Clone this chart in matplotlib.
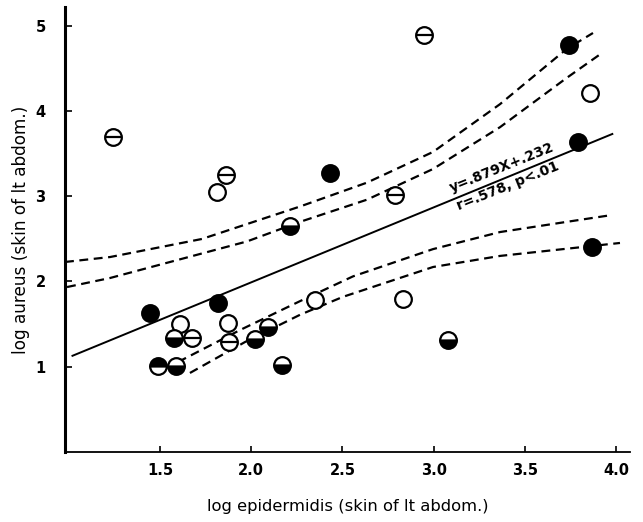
import matplotlib
matplotlib.use("Agg")
import matplotlib.pyplot as plt

# points: (log epidermidis, log aureus)
open_x = [3.86, 1.81, 2.35, 2.83, 1.61, 1.87]
open_y = [4.21, 3.05, 1.78, 1.79, 1.50, 1.51]

filled_x = [3.74, 2.43, 3.79, 3.87, 1.445, 1.82]
filled_y = [4.77, 3.27, 3.64, 2.41, 1.63, 1.75]

theta_x = [1.24, 2.95, 1.86, 2.79, 1.675, 1.88]
theta_y = [3.70, 4.89, 3.25, 3.01, 1.34, 1.29]

bottom_x = [2.21, 1.577, 2.02, 2.09, 1.59, 2.17, 3.08]
bottom_y = [2.65, 1.34, 1.33, 1.47, 1.01, 1.02, 1.31]

top_x = [1.49]
top_y = [1.01]

# regression from the label
slope, intercept = 0.879, 0.232
line_x = [1.02, 3.98]

# hand-drawn dashed bands, traced
up_out_x = [0.979, 1.226, 1.730, 2.268, 2.635, 2.997, 3.364, 3.731, 3.874]
up_out_y = [2.229, 2.287, 2.499, 2.880, 3.160, 3.520, 4.080, 4.730, 4.915]
up_in_x = [0.990, 1.226, 1.977, 2.268, 2.635, 2.997, 3.364, 3.731, 3.923]
up_in_y = [1.935, 2.041, 2.470, 2.700, 2.960, 3.320, 3.810, 4.390, 4.680]
lo_in_x = [1.599, 1.939, 2.268, 2.558, 2.997, 3.364, 3.731, 3.978]
lo_in_y = [1.056, 1.431, 1.770, 2.060, 2.380, 2.580, 2.700, 2.780]
lo_out_x = [1.664, 1.966, 2.268, 2.503, 2.997, 3.364, 3.819, 4.022]
lo_out_y = [0.927, 1.290, 1.610, 1.820, 2.170, 2.300, 2.405, 2.452]

xticks = [1.5, 2.0, 2.5, 3.0, 3.5, 4.0]
yticks = [1, 2, 3, 4, 5]

fig = plt.figure(figsize=(6.43, 5.22), dpi=100)
ax = fig.add_axes([0.1011, 0.1341, 0.8787, 0.8525])
ax.set_xlim(0.979, 4.077)
ax.set_ylim(0, 5.22)

for s in ['top', 'right']:
    ax.spines[s].set_visible(False)
ax.spines['left'].set_linewidth(2.2)
ax.spines['bottom'].set_linewidth(1.3)

ax.set_xticks(xticks)
ax.set_xticklabels(['%.1f' % v for v in xticks], fontweight='bold', fontsize=10.5)
ax.set_yticks(yticks)
ax.set_yticklabels([str(v) for v in yticks], fontweight='bold', fontsize=10.5)
ax.tick_params(axis='x', direction='in', length=4, width=1.2, pad=8)
ax.tick_params(axis='y', direction='in', length=5, width=1.2, pad=14)

ax.set_xlabel('log epidermidis (skin of lt abdom.)', fontsize=11.8, labelpad=15)
ax.set_ylabel('log aureus (skin of lt abdom.)', fontsize=12.2, labelpad=4)

ax.plot(line_x, [slope * v + intercept for v in line_x], color='black', lw=1.4, zorder=2)
dash = dict(color='black', lw=1.6, dashes=(4, 2.5), zorder=2)
ax.plot(up_out_x, up_out_y, **dash)
ax.plot(up_in_x, up_in_y, **dash)
ax.plot(lo_in_x, lo_in_y, **dash)
ax.plot(lo_out_x, lo_out_y, **dash)

mk = dict(ls='none', marker='o', markersize=12, markeredgecolor='black',
          markeredgewidth=1.6, zorder=3)
ax.plot(open_x, open_y, markerfacecolor='white', **mk)
ax.plot(filled_x, filled_y, markerfacecolor='black', **mk)
ax.plot(theta_x, theta_y, markerfacecolor='white', **mk)
ax.plot(theta_x, theta_y, ls='none', marker='_', markersize=11,
        markeredgewidth=1.6, color='black', zorder=4)
ax.plot(bottom_x, bottom_y, fillstyle='bottom', markerfacecolor='black',
        markerfacecoloralt='white', **mk)
ax.plot(top_x, top_y, fillstyle='top', markerfacecolor='black',
        markerfacecoloralt='white', **mk)

ax.text(3.375, 3.34, 'y=.879X+.232', rotation=22, fontsize=10, fontweight='bold',
        ha='center', va='center', rotation_mode='anchor')
ax.text(3.41, 3.12, 'r=.578, p<.01', rotation=22, fontsize=10, fontweight='bold',
        ha='center', va='center', rotation_mode='anchor')

fig.savefig('out.png', dpi=100)
